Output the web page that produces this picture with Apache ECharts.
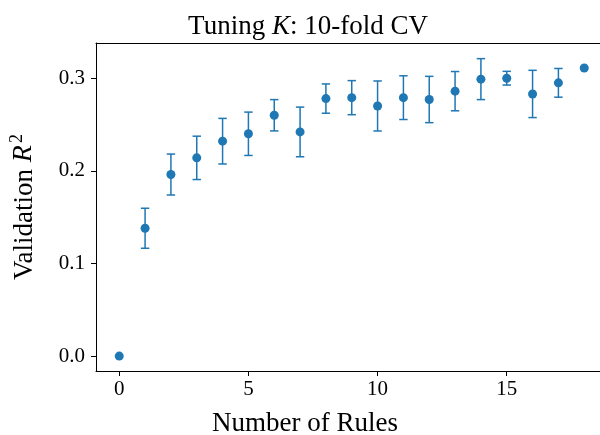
<!DOCTYPE html>
<html>
<head>
<meta charset="utf-8">
<script src="https://cdn.jsdelivr.net/npm/echarts@6/dist/echarts.min.js"></script>
<style>
  html, body { margin: 0; padding: 0; background: #fff; }
  #chart { width: 600px; height: 435px; }
</style>
</head>
<body>
<div id="chart"></div>
<script>
// Number of rules K evaluated in cross-validation
const ruleCounts = [0, 1, 2, 3, 4, 5, 6, 7, 8, 9, 10, 11, 12, 13, 14, 15, 16, 17, 18];
// Mean validation R^2 across the 10 folds
const meanR2 = [0.000, 0.138, 0.196, 0.214, 0.232, 0.240, 0.260, 0.242, 0.278, 0.279,
                0.270, 0.279, 0.277, 0.286, 0.299, 0.300, 0.283, 0.295, 0.311];
// Spread (error bar half-length) of validation R^2
const errR2 = [0.000, 0.0216, 0.0221, 0.0234, 0.0246, 0.0234, 0.0169, 0.0268, 0.0158, 0.0184,
               0.0270, 0.0236, 0.0250, 0.0212, 0.0221, 0.0074, 0.0255, 0.0155, 0.000];
// Tick positions
const xTicks = [0, 5, 10, 15];
const yTicks = [0.0, 0.1, 0.2, 0.3];

const BLUE = '#1f77b4';
const FONT = 'Liberation Serif';
const X_MIN = -0.9, X_MAX = 18.61;
const Y_MIN = -0.0161, Y_MAX = 0.338;

const chart = echarts.init(document.getElementById('chart'), null, { renderer: 'canvas' });

const option = {
  animation: false,
  backgroundColor: '#ffffff',
  title: {
    text: '{n|Tuning }{i|K}{n|: 10-fold CV}',
    left: 303,
    textAlign: 'center',
    top: 8,
    textStyle: {
      rich: {
        n: { fontFamily: FONT, fontSize: 27, fontWeight: 'normal', color: '#000' },
        i: { fontFamily: FONT, fontSize: 27, fontWeight: 'normal', fontStyle: 'italic', color: '#000' }
      }
    }
  },
  grid: {
    left: 94,
    top: 43,
    right: 0,
    bottom: 64
  },
  xAxis: [
    {
      type: 'value',
      min: X_MIN,
      max: X_MAX,
      axisLine: { show: true, onZero: false, lineStyle: { color: '#000', width: 1 } },
      splitLine: { show: false },
      axisTick: { show: true, length: 5, customValues: xTicks, lineStyle: { color: '#000', width: 1 } },
      axisLabel: {
        customValues: xTicks,
        margin: 8,
        fontFamily: FONT,
        fontSize: 21,
        color: '#000',
        formatter: v => String(Math.round(v))
      }
    },
    {
      // top frame line
      type: 'value',
      position: 'top',
      min: X_MIN,
      max: X_MAX,
      axisLine: { show: true, onZero: false, lineStyle: { color: '#000', width: 1 } },
      axisTick: { show: false },
      axisLabel: { show: false },
      splitLine: { show: false }
    }
  ],
  yAxis: {
    type: 'value',
    min: Y_MIN,
    max: Y_MAX,
    name: '{n|Validation }{i|R}{s|2}',
    nameLocation: 'middle',
    nameRotate: 90,
    nameGap: 58,
    nameTextStyle: {
      rich: {
        n: { fontFamily: FONT, fontSize: 27, color: '#000', lineHeight: 30, verticalAlign: 'bottom' },
        i: { fontFamily: FONT, fontSize: 28, fontStyle: 'italic', color: '#000', lineHeight: 30, verticalAlign: 'bottom', padding: [0, 2, 0, 0] },
        s: { fontFamily: FONT, fontSize: 18, color: '#000', lineHeight: 30, verticalAlign: 'top' }
      }
    },
    axisLine: { show: true, onZero: false, lineStyle: { color: '#000', width: 1 } },
    splitLine: { show: false },
    axisTick: { show: true, length: 5, customValues: yTicks, lineStyle: { color: '#000', width: 1 } },
    axisLabel: {
      customValues: yTicks,
      margin: 11,
      fontFamily: FONT,
      fontSize: 21,
      color: '#000',
      formatter: v => v.toFixed(1)
    }
  },
  graphic: [
    {
      type: 'text',
      x: 305,
      y: 410,
      style: {
        text: 'Number of Rules',
        font: '27px "Liberation Serif"',
        fill: '#000',
        textAlign: 'center'
      }
    }
  ],
  series: [
    {
      // error bars with caps
      type: 'custom',
      z: 2,
      data: ruleCounts.map((k, i) => [k, meanR2[i], errR2[i]]),
      encode: { x: 0, y: 1 },
      renderItem: (params, api) => {
        const x = api.value(0);
        const m = api.value(1);
        const e = api.value(2);
        if (!e) return null;
        const top = api.coord([x, m + e]);
        const bot = api.coord([x, m - e]);
        const hw = 4.2;
        const st = { stroke: BLUE, lineWidth: 1.5 };
        return {
          type: 'group',
          children: [
            { type: 'line', shape: { x1: top[0], y1: top[1], x2: bot[0], y2: bot[1] }, style: st },
            { type: 'line', shape: { x1: top[0] - hw, y1: top[1], x2: top[0] + hw, y2: top[1] }, style: st },
            { type: 'line', shape: { x1: bot[0] - hw, y1: bot[1], x2: bot[0] + hw, y2: bot[1] }, style: st }
          ]
        };
      }
    },
    {
      type: 'scatter',
      z: 3,
      symbol: 'circle',
      symbolSize: 9,
      itemStyle: { color: BLUE, opacity: 1 },
      data: ruleCounts.map((k, i) => [k, meanR2[i]])
    }
  ]
};

chart.setOption(option);
</script>
</body>
</html>
